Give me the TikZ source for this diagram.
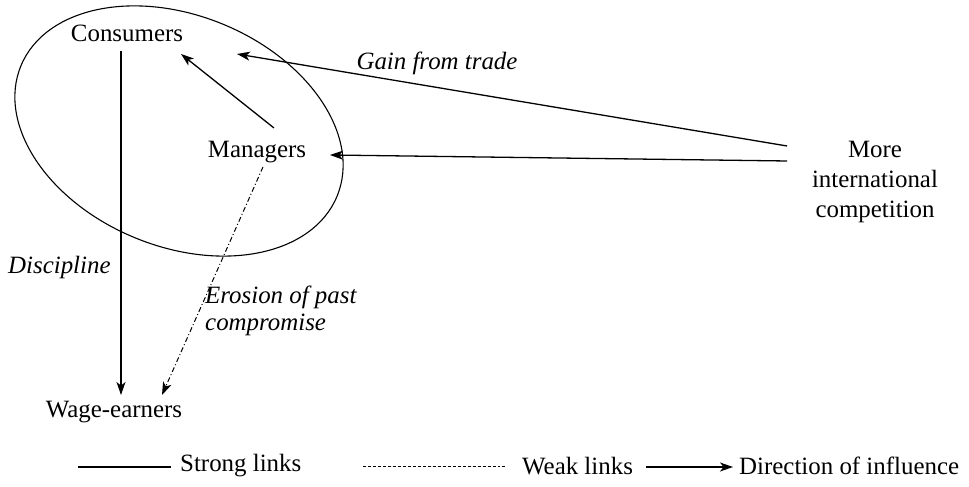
\documentclass[tikz,border=0pt]{standalone}
\usepackage{fontspec}
\setmainfont{Liberation Serif}
\usetikzlibrary{arrows.meta}
\begin{document}
\begin{tikzpicture}[x=1bp,y=1bp,
  every node/.style={inner sep=0pt, font=\fontsize{25}{30}\selectfont},
  lbl/.style={font=\fontsize{25}{27}\selectfont\itshape},
  link/.style={line width=1.3pt},
  tip/.style={-{Stealth[length=13pt,width=9pt,inset=3.5pt]}},
  weak/.style={line width=1pt, dash pattern=on 5pt off 2.5pt on 1pt off 2.5pt},
  legdash/.style={line width=1pt, dash pattern=on 3pt off 2pt}]
\useasboundingbox (0,0) rectangle (969,487);

% actors
\node (cons) at (127,454) {Consumers};
\node (man) at (257,335) {Managers};
\node (wage) at (114,75) {Wage-earners};
\node[align=center, font=\fontsize{25}{30}\selectfont] (comp) at (875,305) {More\\international\\competition};

% group surrounding consumers and managers
\draw[line width=1.1pt, rotate around={-22.4:(179,356)}] (179,356) ellipse [x radius=171, y radius=115.5];

% connector end points
\coordinate (gainS) at (787,341);
\coordinate (gainE) at (237,433);
\coordinate (compS) at (787,326);
\coordinate (compE) at (330,332);
\coordinate (manS) at (274,359);
\coordinate (manE) at (181,433);
\coordinate (consS) at (121,436);
\coordinate (consE) at (121,92);
\coordinate (manW) at (263,320);
\coordinate (wageE) at (162,92);

\draw[link,tip] (gainS) -- (gainE);
\draw[link,tip] (compS) -- (compE);
\draw[link,tip] (manS) -- (manE);
\draw[link,tip] (consS) -- (consE);
\draw[weak,tip] (manW) -- (wageE);

% labels
\node[lbl] (gain) at (437,424) {Gain from trade};
\node[lbl, anchor=west] (disc) at (8,219) {Discipline};
\node[lbl, anchor=west, align=left] (eros) at (205,176) {Erosion of past\\compromise};

% legend
\coordinate (l1a) at (78,20);
\coordinate (l1b) at (171,20);
\draw[link] (l1a) -- (l1b);
\node[anchor=west] (strong) at (180,21) {Strong links};
\coordinate (l2a) at (363,20);
\coordinate (l2b) at (507,20);
\draw[legdash] (l2a) -- (l2b);
\node[anchor=west] (weakl) at (522,21) {Weak links};
\coordinate (l3a) at (646,20);
\coordinate (l3b) at (733,20);
\draw[link,tip] (l3a) -- (l3b);
\node[anchor=west] (dir) at (739,21) {Direction of influence};
\end{tikzpicture}
\end{document}
